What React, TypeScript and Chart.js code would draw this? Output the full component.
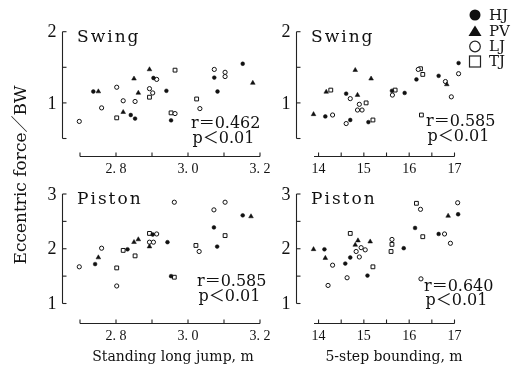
import React, { useEffect, useRef } from 'react';
import { Chart, registerables } from 'chart.js';

Chart.register(...registerables);

const W = 514;
const H = 378;
const SERIF = "'DejaVu Serif', 'Noto Sans CJK JP', serif";
const NUMF = "'Liberation Serif', 'DejaVu Serif', serif";

const groups = ['HJ', 'PV', 'LJ', 'TJ'];

// Swing vs standing long jump
const swingSLJ_HJ = [[2.737, 1.16], [2.841, 0.83], [2.853, 0.78], [2.904, 1.35], [2.94, 1.17], [2.953, 0.755], [3.073, 1.355], [3.082, 1.16], [3.152, 1.55]];
const swingSLJ_PV = [[2.751, 1.16], [2.82, 0.87], [2.85, 1.34], [2.862, 1.14], [2.893, 1.47], [3.18, 1.28]];
const swingSLJ_LJ = [[2.698, 0.74], [2.76, 0.93], [2.802, 1.22], [2.82, 1.03], [2.853, 1.02], [2.893, 1.2], [2.902, 1.14], [2.913, 1.33], [2.964, 0.85], [3.033, 0.92], [3.073, 1.47], [3.103, 1.43], [3.103, 1.37]];
const swingSLJ_TJ = [[2.802, 0.79], [2.893, 1.08], [2.964, 1.46], [2.953, 0.86], [3.024, 1.055]];

// Swing vs 5-step bounding
const swingBND_HJ = [[14.15, 0.81], [14.61, 1.13], [14.7, 0.76], [15.1, 0.73], [15.62, 1.17], [15.9, 1.14], [16.16, 1.33], [16.65, 1.38], [17.09, 1.56]];
const swingBND_PV = [[13.89, 0.84], [14.17, 1.155], [14.81, 1.46], [14.86, 1.11], [15.16, 1.34], [16.83, 1.26]];
const swingBND_LJ = [[14.31, 0.83], [14.7, 1.06], [14.61, 0.71], [14.9, 0.98], [14.86, 0.9], [14.96, 0.9], [15.63, 1.11], [16.2, 1.47], [16.8, 1.3], [17.09, 1.41], [16.93, 1.085]];
const swingBND_TJ = [[14.27, 1.18], [15.05, 1.0], [15.2, 0.76], [15.69, 1.18], [16.25, 1.48], [16.3, 1.4], [16.27, 0.83]];

// Piston vs standing long jump
const pistonSLJ_HJ = [[2.742, 1.72], [2.832, 1.99], [2.902, 2.26], [2.943, 2.12], [2.953, 1.5], [3.072, 2.39], [3.081, 2.04], [3.152, 2.61]];
const pistonSLJ_PV = [[2.751, 1.84], [2.85, 2.12], [2.862, 2.17], [2.893, 2.04], [3.175, 2.59]];
const pistonSLJ_LJ = [[2.698, 1.67], [2.76, 2.01], [2.802, 1.32], [2.913, 2.27], [2.893, 2.12], [2.904, 2.12], [2.962, 2.85], [3.031, 1.95], [3.072, 2.71], [3.103, 2.85]];
const pistonSLJ_TJ = [[2.802, 1.65], [2.82, 1.97], [2.853, 1.87], [2.893, 2.28], [2.962, 1.48], [3.022, 2.06], [3.103, 2.24]];

// Piston vs 5-step bounding
const pistonBND_HJ = [[14.13, 1.99], [14.59, 1.73], [14.7, 1.84], [15.08, 1.51], [15.88, 2.01], [16.13, 2.38], [16.65, 2.27], [17.08, 2.63]];
const pistonBND_PV = [[13.89, 1.99], [14.15, 1.83], [14.81, 2.07], [14.87, 2.15], [15.14, 2.13], [16.86, 2.6]];
const pistonBND_LJ = [[14.31, 1.7], [14.21, 1.33], [14.63, 1.47], [14.83, 1.95], [14.94, 2.02], [14.9, 1.85], [15.03, 1.98], [15.62, 2.17], [16.25, 2.72], [16.26, 1.45], [16.78, 2.27], [16.91, 2.1], [17.07, 2.84]];
const pistonBND_TJ = [[14.7, 2.28], [15.2, 1.67], [15.62, 2.08], [15.6, 1.95], [16.16, 2.83], [16.3, 2.22]];

// Axis ticks
const sljTicks = [2.7, 2.8, 2.9, 3.0, 3.1, 3.2];
const sljLabels = [2.8, 3.0, 3.2];
const bndTicks = [14, 14.5, 15, 15.5, 16, 16.5, 17];
const bndLabels = [14, 15, 16, 17];
const swingYTicks = [0.5, 1, 1.5, 2];
const swingYLabels = [1, 2];
const pistonYTicks = [1, 1.5, 2, 2.5, 3];
const pistonYLabels = [1, 2, 3];

const panelNames = ['Swing', 'Swing', 'Piston', 'Piston'];
const rTexts = ['r＝0.462', 'r＝0.585', 'r＝0.585', 'r＝0.640'];
const pText = 'p＜0.01';
const xTitles = ['Standing long jump, m', '5-step bounding, m'];
const yTitle = 'Eccentric force／BW';

const panels = [
  { name: panelNames[0], data: [swingSLJ_HJ, swingSLJ_PV, swingSLJ_LJ, swingSLJ_TJ], xMin: 2.7, xMax: 3.2, yMin: 0.5, yMax: 2, xTicks: sljTicks, xLabels: sljLabels, yTicks: swingYTicks, yLabels: swingYLabels, xFmt: (v: number) => v.toFixed(1).replace('.', '. '), area: { left: 80, right: 260, top: 31.7, bottom: 138.5 }, xGap: 17.5, r: rTexts[0], rPos: [191, 128, 143], extra: 'ytitle' },
  { name: panelNames[1], data: [swingBND_HJ, swingBND_PV, swingBND_LJ, swingBND_TJ], xMin: 13.9, xMax: 17, yMin: 0.5, yMax: 2, xTicks: bndTicks, xLabels: bndLabels, yTicks: swingYTicks, yLabels: swingYLabels, xFmt: (v: number) => String(v), area: { left: 314, right: 454.5, top: 31.7, bottom: 138.5 }, xGap: 17.5, r: rTexts[1], rPos: [426, 126, 141], extra: 'legend' },
  { name: panelNames[2], data: [pistonSLJ_HJ, pistonSLJ_PV, pistonSLJ_LJ, pistonSLJ_TJ], xMin: 2.7, xMax: 3.2, yMin: 1, yMax: 3, xTicks: sljTicks, xLabels: sljLabels, yTicks: pistonYTicks, yLabels: pistonYLabels, xFmt: (v: number) => v.toFixed(1).replace('.', '. '), area: { left: 80, right: 260, top: 194, bottom: 303.5 }, xGap: 19, r: rTexts[2], rPos: [197, 286, 301], extra: 'xtitle0' },
  { name: panelNames[3], data: [pistonBND_HJ, pistonBND_PV, pistonBND_LJ, pistonBND_TJ], xMin: 13.9, xMax: 17, yMin: 1, yMax: 3, xTicks: bndTicks, xLabels: bndLabels, yTicks: pistonYTicks, yLabels: pistonYLabels, xFmt: (v: number) => String(v), area: { left: 314, right: 454.5, top: 194, bottom: 303.5 }, xGap: 19, r: rTexts[3], rPos: [424, 291, 305], extra: 'xtitle1' },
];

const styles: Record<string, any> = {
  HJ: { pointStyle: 'circle', pointRadius: 1.9, pointBackgroundColor: '#111', pointBorderColor: '#111', pointBorderWidth: 0.5 },
  PV: { pointStyle: 'triangle', pointRadius: 2.7, pointBackgroundColor: '#111', pointBorderColor: '#111', pointBorderWidth: 0.5 },
  LJ: { pointStyle: 'circle', pointRadius: 2.1, pointBackgroundColor: '#fff', pointBorderColor: '#111', pointBorderWidth: 1 },
  TJ: { pointStyle: 'rect', pointRadius: 2.7, pointBackgroundColor: '#fff', pointBorderColor: '#111', pointBorderWidth: 1 },
};

function line(ctx: CanvasRenderingContext2D, x1: number, y1: number, x2: number, y2: number) {
  ctx.beginPath();
  ctx.moveTo(x1, y1);
  ctx.lineTo(x2, y2);
  ctx.stroke();
}

function makePlugin(p: any) {
  return {
    id: 'decor',
    afterDraw(chart: any) {
      const ctx: CanvasRenderingContext2D = chart.ctx;
      const xs = chart.scales.x;
      const ys = chart.scales.y;
      ctx.save();
      ctx.strokeStyle = '#222';
      ctx.fillStyle = '#111';
      ctx.lineWidth = 1.1;
      // y axis
      const ax = Math.round(xs.getPixelForValue(p.xMin) - 18) + 0.5;
      line(ctx, ax, ys.getPixelForValue(p.yMax), ax, ys.getPixelForValue(p.yMin));
      p.yTicks.forEach((v: number) => {
        const py = ys.getPixelForValue(v);
        line(ctx, ax, py, ax + 4, py);
      });
      ctx.font = `18px ${NUMF}`;
      ctx.textAlign = 'right';
      ctx.textBaseline = 'middle';
      p.yLabels.forEach((v: number) => {
        ctx.fillText(String(v), ax - 6, ys.getPixelForValue(v) + 1);
      });
      // x axis
      const ay = Math.round(ys.getPixelForValue(p.yMin) + p.xGap) + 0.5;
      line(ctx, xs.getPixelForValue(p.xMin), ay, xs.getPixelForValue(p.xMax), ay);
      p.xTicks.forEach((v: number) => {
        const px = xs.getPixelForValue(v);
        line(ctx, px, ay, px, ay - 4);
      });
      ctx.font = `14px ${NUMF}`;
      ctx.textAlign = 'center';
      p.xLabels.forEach((v: number) => {
        ctx.fillText(p.xFmt(v), xs.getPixelForValue(v), ay + 13);
      });
      // panel name
      ctx.font = `17px ${SERIF}`;
      (ctx as any).letterSpacing = '2px';
      ctx.textAlign = 'left';
      ctx.textBaseline = 'alphabetic';
      ctx.fillText(p.name, xs.left - 3, ys.top + 10);
      (ctx as any).letterSpacing = '0px';
      // r / p
      ctx.font = `16px ${SERIF}`;
      ctx.fillText(p.r, p.rPos[0], p.rPos[1]);
      ctx.fillText(pText, p.rPos[0] + 1.5, p.rPos[2]);
      // extras
      if (p.extra === 'ytitle') {
        ctx.save();
        ctx.translate(22, 175);
        ctx.rotate(-Math.PI / 2);
        ctx.font = `17px ${SERIF}`;
        ctx.textAlign = 'center';
        ctx.textBaseline = 'middle';
        ctx.fillText(yTitle, 0, 0);
        ctx.restore();
      }
      if (p.extra === 'xtitle0' || p.extra === 'xtitle1') {
        ctx.font = `14px ${SERIF}`;
        ctx.textAlign = 'center';
        ctx.textBaseline = 'middle';
        const cx = p.extra === 'xtitle0' ? 173 : 394;
        ctx.fillText(xTitles[p.extra === 'xtitle0' ? 0 : 1], cx, 357);
      }
      if (p.extra === 'legend') {
        const lx = 475;
        const ly = [15, 31, 46.5, 61.5];
        ctx.lineWidth = 1.2;
        // HJ
        ctx.beginPath(); ctx.arc(lx, ly[0], 5.5, 0, Math.PI * 2); ctx.fill();
        // PV
        ctx.beginPath(); ctx.moveTo(lx, ly[1] - 5.5); ctx.lineTo(lx + 6.5, ly[1] + 5); ctx.lineTo(lx - 6.5, ly[1] + 5); ctx.closePath(); ctx.fill();
        // LJ
        ctx.beginPath(); ctx.arc(lx, ly[2], 5.3, 0, Math.PI * 2); ctx.stroke();
        // TJ
        ctx.strokeRect(lx - 5.5, ly[3] - 5.5, 11, 11);
        ctx.font = `15px ${SERIF}`;
        ctx.textAlign = 'left';
        ctx.textBaseline = 'middle';
        groups.forEach((g, i) => ctx.fillText(g, lx + 14, ly[i] + 1));
      }
      ctx.restore();
    },
  };
}

export default function App() {
  const refs = [useRef<HTMLCanvasElement>(null), useRef<HTMLCanvasElement>(null), useRef<HTMLCanvasElement>(null), useRef<HTMLCanvasElement>(null)];
  useEffect(() => {
    const charts = panels.map((p, i) => {
      const datasets = groups.map((g, gi) => ({
        label: g,
        data: p.data[gi].map(([x, y]) => ({ x, y })),
        showLine: false,
        clip: false as any,
        ...styles[g],
      }));
      return new Chart(refs[i].current!, {
        type: 'scatter',
        data: { datasets },
        options: {
          animation: false,
          responsive: false,
          events: [],
          layout: { padding: { left: p.area.left, right: W - p.area.right, top: p.area.top, bottom: H - p.area.bottom } },
          scales: {
            x: { type: 'linear', min: p.xMin, max: p.xMax, display: false },
            y: { type: 'linear', min: p.yMin, max: p.yMax, display: false },
          },
          plugins: { legend: { display: false }, tooltip: { enabled: false } },
        },
        plugins: [makePlugin(p)],
      });
    });
    return () => charts.forEach((c) => c.destroy());
  }, []);
  return (
    <div style={{ position: 'absolute', left: 0, top: 0, width: W, height: H, background: '#fff' }}>
      {refs.map((r, i) => (
        <canvas key={i} ref={r} width={W} height={H} style={{ position: 'absolute', left: 0, top: 0, width: W, height: H }} />
      ))}
    </div>
  );
}
